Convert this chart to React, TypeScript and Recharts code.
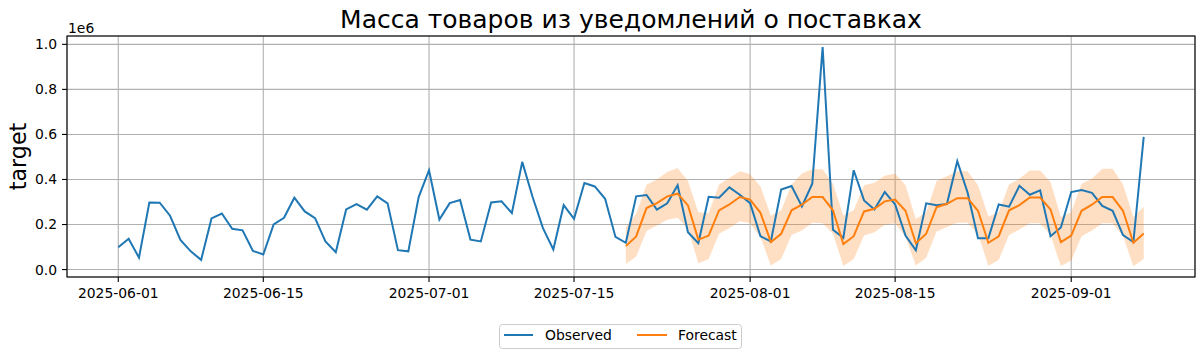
import React from 'react';
import { ComposedChart, Line, Area, XAxis, YAxis, CartesianGrid } from 'recharts';

const TITLE = 'Масса товаров из уведомлений о поставках';
const Y_LABEL = 'target';

// Day index 0 = 2025-06-01
const X_TICKS = [0, 14, 30, 44, 61, 75, 92];
const X_TICK_LABELS = ['2025-06-01', '2025-06-15', '2025-07-01', '2025-07-15', '2025-08-01', '2025-08-15', '2025-09-01'];
const Y_TICKS = [0, 200000, 400000, 600000, 800000, 1000000];

const OBSERVED = [
  99000, 137000, 53000, 298000, 297000, 239000, 132000, 81000, 43000, 227000,
  249000, 181000, 174000, 83000, 67000, 200000, 230000, 319000, 258000, 228000,
  125000, 77000, 267000, 291000, 266000, 325000, 294000, 86000, 81000, 322000,
  441000, 222000, 295000, 309000, 133000, 125000, 298000, 303000, 251000, 478000,
  322000, 184000, 89000, 286000, 225000, 384000, 369000, 314000, 145000, 119000,
  325000, 331000, 266000, 294000, 374000, 166000, 117000, 323000, 319000, 365000,
  332000, 295000, 148000, 125000, 355000, 371000, 280000, 381000, 988000, 177000,
  141000, 441000, 307000, 267000, 344000, 289000, 151000, 85000, 294000, 286000,
  291000, 481000, 341000, 139000, 139000, 289000, 279000, 372000, 332000, 352000,
  148000, 187000, 344000, 353000, 341000, 283000, 261000, 153000, 122000, 589000,
];

const FORECAST_START = 49;
const FORECAST = [
  104000, 147000, 273000, 295000, 325000, 337000, 285000, 133000, 151000, 263000,
  289000, 322000, 311000, 252000, 122000, 159000, 263000, 288000, 322000, 322000,
  263000, 113000, 148000, 258000, 270000, 303000, 311000, 261000, 117000, 159000,
  277000, 292000, 317000, 317000, 261000, 119000, 148000, 263000, 286000, 320000,
  320000, 267000, 122000, 151000, 261000, 288000, 322000, 322000, 261000, 119000,
  160000,
];
const LOWER = [
  25000, 58000, 171000, 196000, 221000, 230000, 181000, 28000, 47000, 159000,
  184000, 215000, 206000, 144000, 18000, 47000, 154000, 174000, 208000, 206000,
  159000, 16000, 47000, 151000, 166000, 199000, 206000, 146000, 18000, 53000,
  169000, 189000, 208000, 208000, 159000, 17000, 43000, 154000, 178000, 206000,
  206000, 153000, 16000, 40000, 148000, 174000, 206000, 206000, 148000, 15000,
  47000,
];
const UPPER = [
  188000, 248000, 377000, 400000, 433000, 451000, 393000, 255000, 250000, 378000,
  406000, 437000, 423000, 369000, 239000, 263000, 378000, 426000, 445000, 445000,
  381000, 240000, 263000, 374000, 386000, 416000, 426000, 374000, 225000, 255000,
  393000, 414000, 436000, 436000, 374000, 236000, 255000, 378000, 403000, 440000,
  440000, 389000, 233000, 255000, 381000, 403000, 448000, 448000, 378000, 233000,
  279000,
];

const data = OBSERVED.map((v, i) => {
  const j = i - FORECAST_START;
  const has = j >= 0 && j < FORECAST.length;
  return {
    t: i,
    obs: v,
    fc: has ? FORECAST[j] : null,
    band: has ? [LOWER[j], UPPER[j]] : null,
  };
});

const FONT = 'DejaVu Sans, sans-serif';
const W = 1204;
const H = 358;
const PLOT_L = 67;
const PLOT_R = 1195;
const PLOT_T = 36;
const PLOT_B = 277;

export default function App() {
  return (
    <div style={{ position: 'absolute', left: 0, top: 0, width: W, height: H, background: '#fff' }}>
      <ComposedChart
        width={W}
        height={H}
        data={data}
        margin={{ top: PLOT_T, right: W - PLOT_R, left: PLOT_L - 60, bottom: H - PLOT_B - 30 }}
      >
        <CartesianGrid stroke="#b0b0b0" strokeWidth={1.1} />
        <XAxis
          dataKey="t"
          type="number"
          domain={[-4.95, 103.95]}
          allowDataOverflow
          ticks={X_TICKS}
          tickFormatter={(v: number) => X_TICK_LABELS[X_TICKS.indexOf(v)] ?? ''}
          height={30}
          axisLine={false}
          tickLine={{ stroke: '#000', strokeWidth: 1.1 }}
          tickSize={5}
          tickMargin={6}
          tick={{ fill: '#000', fontSize: 13.9, fontFamily: FONT }}
          interval={0}
        />
        <YAxis
          type="number"
          domain={[-33000, 1037000]}
          allowDataOverflow
          ticks={Y_TICKS}
          tickFormatter={(v: number) => (v / 1e6).toFixed(1)}
          width={60}
          axisLine={false}
          tickLine={{ stroke: '#000', strokeWidth: 1.1 }}
          tickSize={5}
          tickMargin={5}
          tick={{ fill: '#000', fontSize: 13.9, fontFamily: FONT }}
          interval={0}
        />
        <Area
          dataKey="band"
          type="linear"
          stroke="none"
          fill="#ff7f0e"
          fillOpacity={0.25}
          isAnimationActive={false}
          dot={false}
          activeDot={false}
        />
        <Line
          dataKey="obs"
          type="linear"
          stroke="#1f77b4"
          strokeWidth={2}
          dot={false}
          activeDot={false}
          isAnimationActive={false}
        />
        <Line
          dataKey="fc"
          type="linear"
          stroke="#ff7f0e"
          strokeWidth={2}
          dot={false}
          activeDot={false}
          isAnimationActive={false}
        />
      </ComposedChart>
      <svg
        width={W}
        height={H}
        style={{ position: 'absolute', left: 0, top: 0, pointerEvents: 'none' }}
      >
        <rect
          x={PLOT_L}
          y={PLOT_T}
          width={PLOT_R - PLOT_L}
          height={PLOT_B - PLOT_T}
          fill="none"
          stroke="#000"
          strokeWidth={1.1}
        />
        <text x={(PLOT_L + PLOT_R) / 2} y={28} textAnchor="middle" fontFamily={FONT} fontSize={25} fill="#000">
          {TITLE}
        </text>
        <text x={68} y={33} fontFamily={FONT} fontSize={13.9} fill="#000">1e6</text>
        <text
          x={0}
          y={0}
          transform={`translate(26, ${(PLOT_T + PLOT_B) / 2}) rotate(-90)`}
          textAnchor="middle"
          fontFamily={FONT}
          fontSize={22.2}
          fill="#000"
        >
          {Y_LABEL}
        </text>
        <rect x={499.5} y={324.5} width={242} height={24} rx={3} fill="#fff" stroke="#cccccc" strokeWidth={1} />
        <line x1={504} y1={335} x2={533} y2={335} stroke="#1f77b4" strokeWidth={2} />
        <text x={545} y={340} fontFamily={FONT} fontSize={13.9} fill="#000">Observed</text>
        <line x1={637} y1={335} x2={667} y2={335} stroke="#ff7f0e" strokeWidth={2} />
        <text x={678} y={340} fontFamily={FONT} fontSize={13.9} fill="#000">Forecast</text>
      </svg>
    </div>
  );
}
